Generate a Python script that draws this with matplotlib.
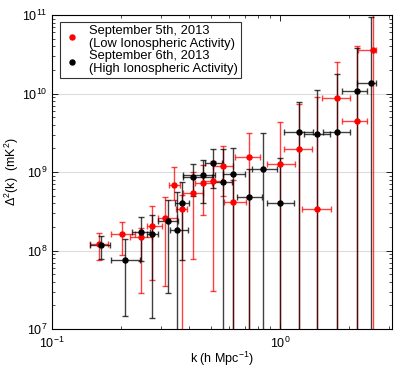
import numpy as np
import matplotlib
matplotlib.use("Agg")
import matplotlib.pyplot as plt
from matplotlib.lines import Line2D
from matplotlib.ticker import LogLocator, NullFormatter

plt.rcParams["font.family"] = ["Liberation Sans", "DejaVu Sans"]
plt.rcParams["mathtext.fontset"] = "custom"
plt.rcParams["mathtext.rm"] = "Liberation Sans"
plt.rcParams["mathtext.it"] = "Liberation Sans:italic"

# Sep 5th (low ionospheric activity)
k_sep5 = [0.161, 0.203, 0.246, 0.275, 0.313, 0.343, 0.371, 0.415, 0.461, 0.507,
          0.562, 0.625, 0.731, 1.000, 1.210, 1.449, 1.773, 2.169, 2.557]
k_lo_sep5 = [0.147, 0.181, 0.220, 0.261, 0.292, 0.326, 0.350, 0.376, 0.424, 0.459,
             0.508, 0.568, 0.635, 0.879, 1.044, 1.253, 1.523, 1.865, 2.198]
k_hi_sep5 = [0.176, 0.231, 0.275, 0.304, 0.354, 0.364, 0.391, 0.460, 0.503, 0.557,
             0.622, 0.710, 0.817, 1.164, 1.386, 1.669, 2.028, 2.400, 2.636]
p_sep5 = [1.21e8, 1.62e8, 1.47e8, 2.08e8, 2.63e8, 6.83e8, 3.35e8, 5.45e8, 7.2e8, 7.75e8,
          1.20e9, 4.19e8, 1.57e9, 1.26e9, 1.95e9, 3.35e8, 8.69e9, 4.5e9, 3.58e10]
p_lo_sep5 = [7.6e7, 8.8e7, 2.9e7, 4.15e7, 3.5e7, 4.4e8, 1e6, 7.7e7, 2.83e8, 3.05e7,
             5e8, 1e6, 1e6, 1e6, 1e6, 1e6, 1e6, 1e6, 1e6]
p_hi_sep5 = [1.67e8, 2.31e8, 1.94e8, 3.69e8, 4.8e8, 1.15e9, 5.1e8, 1.0e9, 1.23e9, 1.4e9,
             2.16e9, 8e8, 3.11e9, 4.37e9, 7.28e9, 9e9, 2.54e10, 4.03e10, 2e11]

# Sep 6th (high ionospheric activity)
k_sep6 = [0.164, 0.210, 0.246, 0.275, 0.322, 0.3525, 0.371, 0.415, 0.461, 0.507,
          0.562, 0.625, 0.731, 0.845, 1.000, 1.210, 1.449, 1.773, 2.169, 2.506]
k_lo_sep6 = [0.147, 0.181, 0.224, 0.260, 0.292, 0.329, 0.346, 0.376, 0.376, 0.469,
             0.508, 0.562, 0.646, 0.752, 0.874, 1.041, 1.274, 1.543, 1.865, 2.169]
k_hi_sep6 = [0.180, 0.243, 0.269, 0.292, 0.357, 0.396, 0.399, 0.502, 0.519, 0.555,
             0.616, 0.703, 0.831, 0.973, 1.152, 1.400, 1.657, 2.028, 2.400, 2.636]
p_sep6 = [1.16e8, 7.57e7, 1.74e8, 1.62e8, 2.38e8, 1.82e8, 4.06e8, 8.56e8, 9.16e8, 1.29e9,
          7.52e8, 9.43e8, 4.84e8, 1.08e9, 3.99e8, 3.23e9, 3.02e9, 3.23e9, 1.08e10, 1.37e10]
p_lo_sep6 = [7.9e7, 1.46e7, 7.35e7, 1.40e7, 2.85e7, 1e6, 7.57e7, 4.95e8, 3.99e8, 6.25e8,
             1e6, 1e6, 1e6, 1e6, 1e6, 1e6, 1e6, 1e6, 1e6, 1e6]
p_hi_sep6 = [1.53e8, 1.40e8, 2.67e8, 2.83e8, 4.46e8, 5.56e8, 7.46e8, 1.25e9, 1.42e9, 1.96e9,
             1.96e9, 2.02e9, 1.1e9, 3.11e9, 1.5e9, 7.86e9, 1.11e10, 1.77e10, 3.77e10, 9.5e10]

labels = ["September 5th, 2013\n(Low Ionospheric Activity)",
          "September 6th, 2013\n(High Ionospheric Activity)"]


def draw(ax, k, klo, khi, p, plo, phi, color):
    k = np.array(k); p = np.array(p)
    xerr = [k - np.array(klo), np.array(khi) - k]
    yerr = [p - np.array(plo), np.array(phi) - p]
    ax.errorbar(k, p, xerr=xerr, yerr=yerr, fmt="none", ecolor=color,
                elinewidth=1.0, capsize=2.4, capthick=1.0, alpha=0.75)
    ax.plot(k, p, "o", color=color, markersize=3.6, zorder=5)


fig = plt.figure(figsize=(3.99, 3.69), dpi=100)
ax = fig.add_axes([0.1303, 0.1084, 0.8522, 0.8509])

draw(ax, k_sep5, k_lo_sep5, k_hi_sep5, p_sep5, p_lo_sep5, p_hi_sep5, "#ff0000")
draw(ax, k_sep6, k_lo_sep6, k_hi_sep6, p_sep6, p_lo_sep6, p_hi_sep6, "#000000")

ax.set_xscale("log")
ax.set_yscale("log")
ax.set_xlim(0.1, 3.1)
ax.set_ylim(1e7, 1e11)

ax.yaxis.set_major_locator(LogLocator(base=10, numticks=10))
ax.yaxis.set_minor_locator(LogLocator(base=10, subs=np.arange(2, 10), numticks=20))
ax.yaxis.set_minor_formatter(NullFormatter())
ax.xaxis.set_minor_formatter(NullFormatter())

ax.grid(True, which="major", axis="y", color="#dcdcdc", lw=0.8)
ax.set_axisbelow(True)
ax.tick_params(which="both", direction="in", top=True, right=True, labelsize=9)
ax.tick_params(which="major", length=4, width=0.6)
ax.tick_params(which="minor", length=2, width=0.5)
ax.tick_params(axis="x", which="major", pad=5)
ax.tick_params(axis="y", which="major", pad=3)
for s in ax.spines.values():
    s.set_linewidth(0.8)

ax.set_xlabel("k (h Mpc$^{-1}$)", fontsize=9, labelpad=-1)
ax.set_ylabel("$\\Delta^2$(k)  (mK$^2$)", fontsize=9, labelpad=1)

handles = [Line2D([], [], ls="none", marker="o", color="#ff0000", markersize=3.6),
           Line2D([], [], ls="none", marker="o", color="#000000", markersize=3.6)]
leg = ax.legend(handles, labels, loc="upper left", bbox_to_anchor=(0.0235, 0.978),
                fontsize=9.3, frameon=True, fancybox=False, edgecolor="black",
                handlelength=1.3, handletextpad=0.7, borderpad=0.25, labelspacing=0.05,
                borderaxespad=0.0)
leg.get_frame().set_linewidth(0.8)
for t in leg.get_texts():
    t.set_linespacing(1.05)

fig.savefig("out.png", dpi=100)
